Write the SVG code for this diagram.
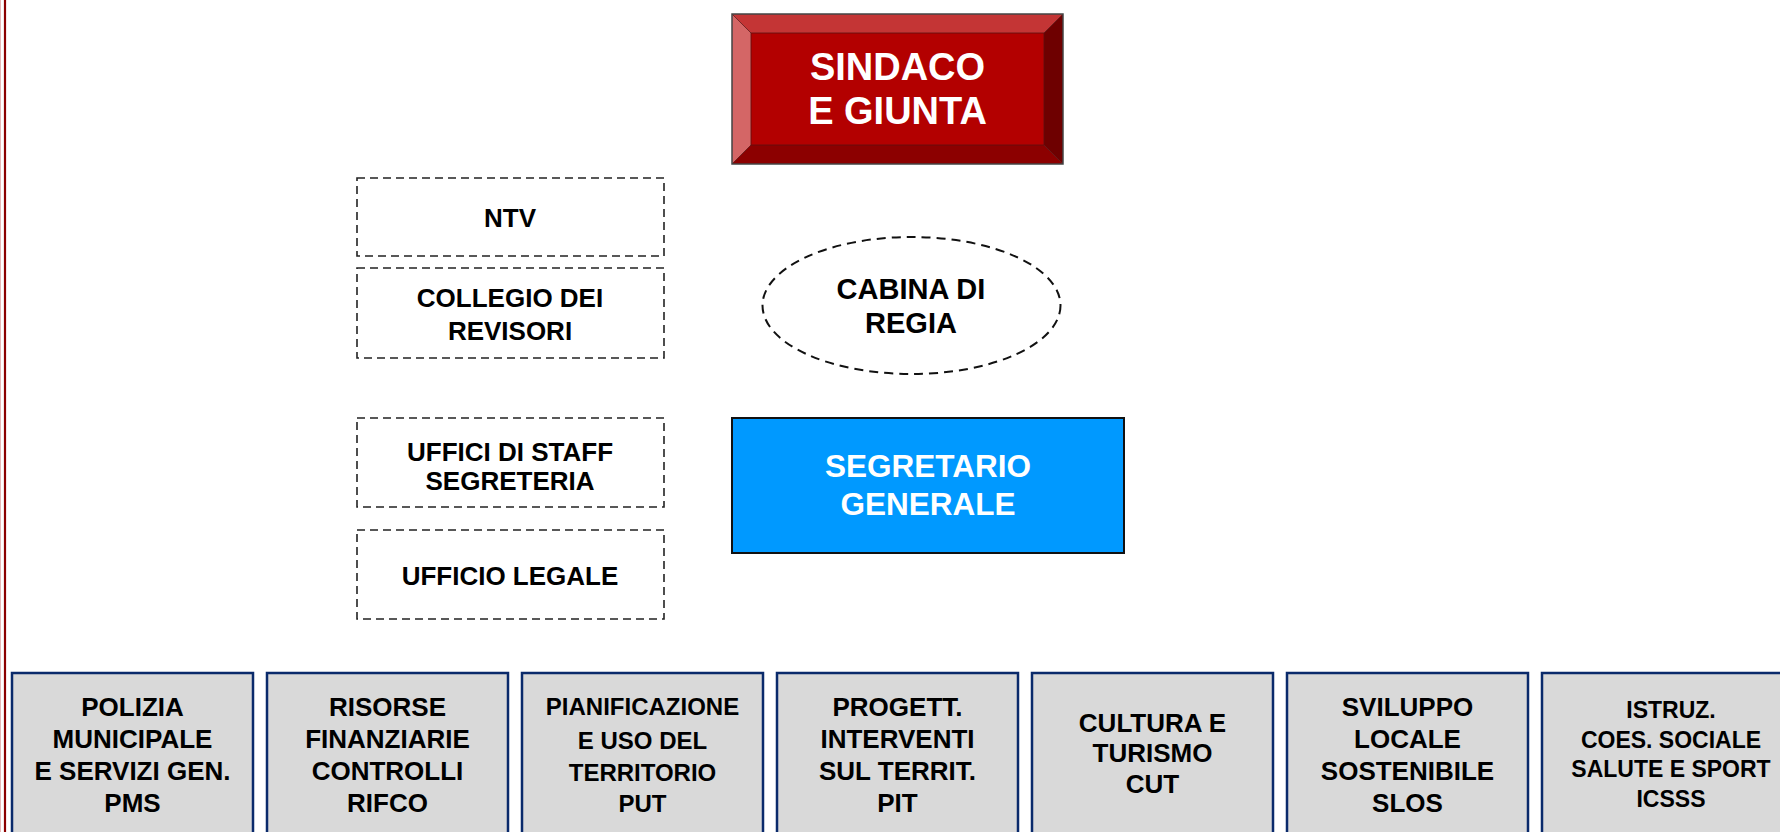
<svg xmlns="http://www.w3.org/2000/svg" width="1780" height="832" viewBox="0 0 1780 832">
<style>
text{font-family:"Liberation Sans",Arial,sans-serif;font-weight:bold;text-anchor:middle}
.dash{fill:#fff;stroke:#222;stroke-width:1.6;stroke-dasharray:8 5}
.dl{font-size:26px;fill:#000}
.el{font-size:29px;fill:#000}
.unit{fill:#D9D9D9;stroke:#0A2A6B;stroke-width:2.5}
.ul{font-size:26px;fill:#000}
.us{font-size:24px;fill:#000}
.ut{font-size:23px;fill:#000}
.wl{fill:#fff;font-size:38px}
.wm{fill:#fff;font-size:31.5px}
</style>
<rect width="1780" height="832" fill="#fff"/>
<g id="border">
<line x1="0.5" y1="0" x2="0.5" y2="832" stroke="#E5B5B5" stroke-width="1"/>
<line x1="5" y1="0" x2="5" y2="832" stroke="#8B0000" stroke-width="2.2"/>
</g>
<g id="connectors"></g>
<g id="sindaco">
<polygon points="732,14 1063,14 1044,33 751,33" fill="#C43535"/>
<polygon points="732,14 751,33 751,145 732,164" fill="#D46666"/>
<polygon points="1063,14 1063,164 1044,145 1044,33" fill="#6E0000"/>
<polygon points="732,164 751,145 1044,145 1063,164" fill="#8C0000"/>
<rect x="751" y="33" width="293" height="112" fill="#B30000"/>
<g stroke="#5A1010" stroke-width="0.8" fill="none">
<line x1="732" y1="14" x2="751" y2="33"/><line x1="1063" y1="14" x2="1044" y2="33"/>
<line x1="732" y1="164" x2="751" y2="145"/><line x1="1063" y1="164" x2="1044" y2="145"/>
<rect x="751" y="33" width="293" height="112"/>
</g>
<rect x="732" y="14" width="331" height="150" fill="none" stroke="#444" stroke-width="1.5"/>
<text x="897.5" y="80" class="wl">SINDACO</text>
<text x="897.5" y="124" class="wl">E GIUNTA</text>
</g>
<g id="ntv">
<rect class="dash" x="357" y="178" width="307" height="78"/>
<text class="dl" x="510" y="227">NTV</text>
</g>
<g id="collegio">
<rect class="dash" x="357" y="268" width="307" height="90"/>
<text class="dl" x="510" y="307">COLLEGIO DEI</text>
<text class="dl" x="510" y="340">REVISORI</text>
</g>
<g id="cabina">
<ellipse cx="911.5" cy="305.5" rx="149" ry="68.5" fill="#fff" stroke="#111" stroke-width="2" stroke-dasharray="9 6"/>
<text class="el" x="911" y="299">CABINA DI</text>
<text class="el" x="911" y="333">REGIA</text>
</g>
<g id="staff">
<rect class="dash" x="357" y="418" width="307" height="89"/>
<text class="dl" x="510" y="461">UFFICI DI STAFF</text>
<text class="dl" x="510" y="490">SEGRETERIA</text>
</g>
<g id="legale">
<rect class="dash" x="357" y="530" width="307" height="89"/>
<text class="dl" x="510" y="585">UFFICIO LEGALE</text>
</g>
<g id="segretario">
<rect x="732" y="418" width="392" height="135" fill="#0099FF" stroke="#111" stroke-width="2"/>
<text x="928" y="477" class="wm">SEGRETARIO</text>
<text x="928" y="515" class="wm">GENERALE</text>
</g>
<g id="pms">
<rect class="unit" x="12" y="673" width="241" height="180"/>
<text class="ul" x="132.5" y="716">POLIZIA</text>
<text class="ul" x="132.5" y="748">MUNICIPALE</text>
<text class="ul" x="132.5" y="780">E SERVIZI GEN.</text>
<text class="ul" x="132.5" y="812">PMS</text>
</g>
<g id="rifco">
<rect class="unit" x="267" y="673" width="241" height="180"/>
<text class="ul" x="387.5" y="716">RISORSE</text>
<text class="ul" x="387.5" y="748">FINANZIARIE</text>
<text class="ul" x="387.5" y="780">CONTROLLI</text>
<text class="ul" x="387.5" y="812">RIFCO</text>
</g>
<g id="put">
<rect class="unit" x="522" y="673" width="241" height="180"/>
<text class="us" x="642.5" y="715">PIANIFICAZIONE</text>
<text class="us" x="642.5" y="749">E USO DEL</text>
<text class="us" x="642.5" y="781">TERRITORIO</text>
<text class="us" x="642.5" y="812">PUT</text>
</g>
<g id="pit">
<rect class="unit" x="777" y="673" width="241" height="180"/>
<text class="ul" x="897.5" y="716">PROGETT.</text>
<text class="ul" x="897.5" y="748">INTERVENTI</text>
<text class="ul" x="897.5" y="780">SUL TERRIT.</text>
<text class="ul" x="897.5" y="812">PIT</text>
</g>
<g id="cut">
<rect class="unit" x="1032" y="673" width="241" height="180"/>
<text class="ul" x="1152.5" y="732">CULTURA E</text>
<text class="ul" x="1152.5" y="762">TURISMO</text>
<text class="ul" x="1152.5" y="793">CUT</text>
</g>
<g id="slos">
<rect class="unit" x="1287" y="673" width="241" height="180"/>
<text class="ul" x="1407.5" y="716">SVILUPPO</text>
<text class="ul" x="1407.5" y="748">LOCALE</text>
<text class="ul" x="1407.5" y="780">SOSTENIBILE</text>
<text class="ul" x="1407.5" y="812">SLOS</text>
</g>
<g id="icsss">
<rect class="unit" x="1542" y="673" width="260" height="180"/>
<text class="ut" x="1671" y="718">ISTRUZ.</text>
<text class="ut" x="1671" y="748">COES. SOCIALE</text>
<text class="ut" x="1671" y="777">SALUTE E SPORT</text>
<text class="ut" x="1671" y="807">ICSSS</text>
</g>
</svg>
